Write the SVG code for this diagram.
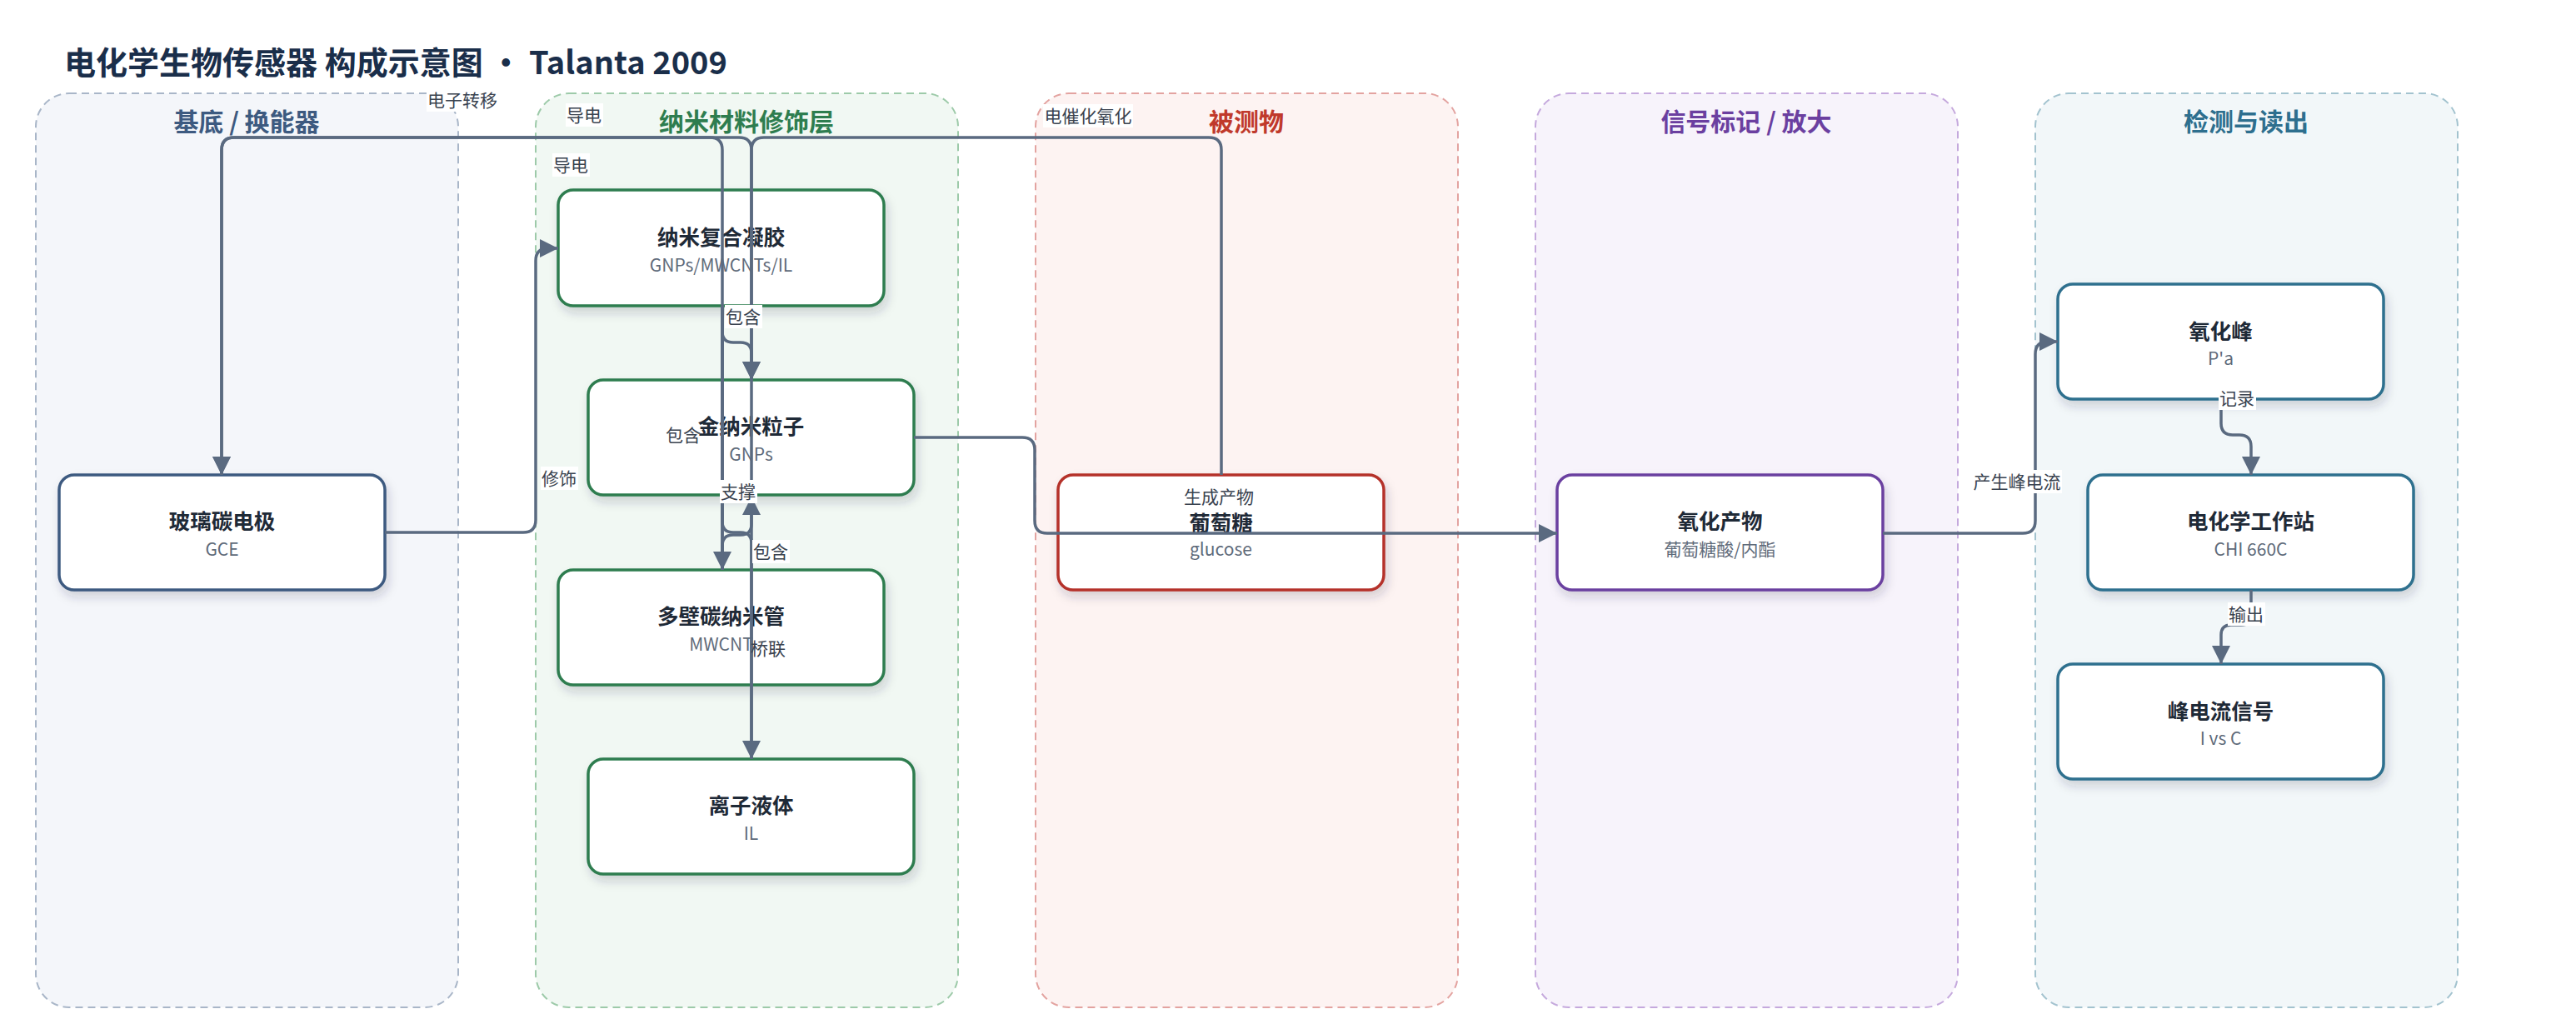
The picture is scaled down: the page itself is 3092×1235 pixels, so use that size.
<svg xmlns="http://www.w3.org/2000/svg" width="3092" height="1235" viewBox="0 0 3092 1235">
<style>
text{font-family:"Noto Sans CJK SC","Noto Sans",sans-serif}
.title{font-size:38px;font-weight:700;fill:#1a2e4a}
.ct{font-size:30px;font-weight:700;text-anchor:middle}
.cl{stroke-width:2;stroke-dasharray:9 6}
.nb{fill:#fff;stroke-width:3.5;filter:url(#sh)}
.nt{font-size:25.5px;font-weight:700;fill:#1f2a37;text-anchor:middle}
.ns{font-size:21px;fill:#5f6b7a;text-anchor:middle}
.e{fill:none;stroke:#5a6a80;stroke-width:3.5}
.ea{marker-end:url(#arr)}
.lb{fill:#fff}
.lt{font-size:21px;fill:#3a4350;text-anchor:middle}
</style>
<defs>
<filter id="sh" x="-10%" y="-10%" width="125%" height="140%">
<feDropShadow dx="3" dy="7" stdDeviation="6" flood-color="#1a2e4a" flood-opacity="0.18"/>
</filter>
<marker id="arr" markerUnits="userSpaceOnUse" markerWidth="22" markerHeight="22" viewBox="0 0 20 20" refX="20" refY="10" orient="auto">
<path d="M0,0 L20,10 L0,20 z" fill="#5a6a80"/>
</marker>
</defs>
<rect width="3092" height="1235" fill="#fff"/>
<text class="title" x="77" y="89">电化学生物传感器 构成示意图 · Talanta 2009</text>

<g id="clusters">
<g id="cluster-substrate"><rect class="cl" x="43" y="112" width="507" height="1097" rx="40" fill="#f4f6fa" stroke="#a9b6c8"/><text class="ct" x="296" y="157" fill="#3d5a80">基底 / 换能器</text></g>
<g id="cluster-nano"><rect class="cl" x="643" y="112" width="507" height="1097" rx="40" fill="#f1f8f3" stroke="#9dcaa9"/><text class="ct" x="896" y="157" fill="#2e7d4f">纳米材料修饰层</text></g>
<g id="cluster-analyte"><rect class="cl" x="1243" y="112" width="507" height="1097" rx="40" fill="#fdf3f2" stroke="#e3a3a0"/><text class="ct" x="1496" y="157" fill="#c0392b">被测物</text></g>
<g id="cluster-signal"><rect class="cl" x="1843" y="112" width="507" height="1097" rx="40" fill="#f7f3fb" stroke="#c5a9dd"/><text class="ct" x="2096" y="157" fill="#6b3fa0">信号标记 / 放大</text></g>
<g id="cluster-detect"><rect class="cl" x="2443" y="112" width="507" height="1097" rx="40" fill="#f2f7f9" stroke="#a3c3cf"/><text class="ct" x="2696" y="157" fill="#2e6f8e">检测与读出</text></g>
</g>

<g id="node-gce"><rect class="nb" x="71" y="570" width="391" height="138" rx="18" stroke="#3d5a80"/><text class="nt" x="266.5" y="635">玻璃碳电极</text><text class="ns" x="266.5" y="667">GCE</text></g>
<g id="node-gel"><rect class="nb" x="670" y="228" width="391" height="139" rx="18" stroke="#2e7d4f"/><text class="nt" x="865.5" y="294">纳米复合凝胶</text><text class="ns" x="865.5" y="326">GNPs/MWCNTs/IL</text></g>
<g id="node-gnps"><rect class="nb" x="706" y="456" width="391" height="138" rx="18" stroke="#2e7d4f"/><text class="nt" x="901.5" y="521">金纳米粒子</text><text class="ns" x="901.5" y="553">GNPs</text></g>
<g id="node-mwcnt"><rect class="nb" x="670" y="684" width="391" height="138" rx="18" stroke="#2e7d4f"/><text class="nt" x="865.5" y="749">多壁碳纳米管</text><text class="ns" x="865.5" y="781">MWCNT</text></g>
<g id="node-il"><rect class="nb" x="706" y="911" width="391" height="138" rx="18" stroke="#2e7d4f"/><text class="nt" x="901.5" y="976">离子液体</text><text class="ns" x="901.5" y="1008">IL</text></g>
<g id="node-glucose"><rect class="nb" x="1270" y="570" width="391" height="138" rx="18" stroke="#b5302a"/><text class="nt" x="1465.5" y="637">葡萄糖</text><text class="ns" x="1465.5" y="667">glucose</text></g>
<g id="node-product"><rect class="nb" x="1869" y="570" width="391" height="138" rx="18" stroke="#6b3fa0"/><text class="nt" x="2064.5" y="635">氧化产物</text><text class="ns" x="2064.5" y="667">葡萄糖酸/内酯</text></g>
<g id="node-peak"><rect class="nb" x="2470" y="341" width="391" height="138" rx="18" stroke="#2e6f8e"/><text class="nt" x="2665.5" y="407">氧化峰</text><text class="ns" x="2665.5" y="438">P'a</text></g>
<g id="node-station"><rect class="nb" x="2506" y="570" width="391" height="138" rx="18" stroke="#2e6f8e"/><text class="nt" x="2701.5" y="635">电化学工作站</text><text class="ns" x="2701.5" y="667">CHI 660C</text></g>
<g id="node-current"><rect class="nb" x="2470" y="797" width="391" height="138" rx="18" stroke="#2e6f8e"/><text class="nt" x="2665.5" y="863">峰电流信号</text><text class="ns" x="2665.5" y="894">I vs C</text></g>

<g id="connectors">
<path class="e ea" d="M462,639 L628,639 Q643,639 643,624 L643,313 Q643,298 658,298 L670,298"/>
<path class="e ea" d="M867,684 L867,180 Q867,165 852,165 L281,165 Q266,165 266,180 L266,570"/>
<path class="e ea" d="M902,911 L902,180 Q902,165 887,165 L281,165 Q266,165 266,180 L266,570"/>
<path class="e ea" d="M1466,570 L1466,180 Q1466,165 1451,165 L917,165 Q902,165 902,180 L902,456"/>
<path class="e ea" d="M867,367 L867,398 Q867,411 880,411 L889,411 Q902,411 902,424 L902,456"/>
<path class="e ea" d="M867,367 L867,684"/>
<path class="e ea" d="M867,367 L867,626 Q867,639 880,639 L889,639 Q902,639 902,652 L902,911"/>
<path class="e ea" d="M867,684 L867,655 Q867,642 880,642 L889,642 Q902,642 902,629 L902,596"/>
<path class="e ea" d="M1097,525 L1227,525 Q1242,525 1242,540 L1242,625 Q1242,640 1257,640 L1869,640"/>
<path class="e ea" d="M2260,640 L2428,640 Q2443,640 2443,625 L2443,425 Q2443,410 2458,410 L2470,410"/>
<path class="e ea" d="M2666,479 L2666,508 Q2666,522 2680,522 L2688,522 Q2702,522 2702,536 L2702,570"/>
<path class="e ea" d="M2702,708 L2702,738 Q2702,750 2690,750 L2678,750 Q2666,750 2666,762 L2666,797"/>
</g>

<g id="edge-labels">
<rect class="lb" x="512" y="106" width="87" height="28"/><text class="lt" x="555" y="128">电子转移</text>
<rect class="lb" x="679" y="124" width="45" height="28"/><text class="lt" x="701" y="146">导电</text>
<rect class="lb" x="663" y="184" width="45" height="28"/><text class="lt" x="685" y="206">导电</text>
<rect class="lb" x="649" y="560" width="45" height="28"/><text class="lt" x="671" y="582">修饰</text>
<rect class="lb" x="870" y="366" width="45" height="28"/><text class="lt" x="892" y="388">包含</text>
<text class="lt" x="820" y="530">包含</text>
<rect class="lb" x="864" y="576" width="45" height="28"/><text class="lt" x="886" y="598">支撑</text>
<rect class="lb" x="903" y="648" width="45" height="28"/><text class="lt" x="925" y="670">包含</text>
<text class="lt" x="922" y="786">桥联</text>
<rect class="lb" x="1252" y="125" width="108" height="28"/><text class="lt" x="1306" y="147">电催化氧化</text>
<text class="lt" x="1463" y="604">生成产物</text>
<rect class="lb" x="2367" y="564" width="108" height="28"/><text class="lt" x="2421" y="586">产生峰电流</text>
<rect class="lb" x="2663" y="464" width="45" height="28"/><text class="lt" x="2685" y="486">记录</text>
<rect class="lb" x="2674" y="723" width="45" height="28"/><text class="lt" x="2696" y="745">输出</text>
</g>
</svg>
